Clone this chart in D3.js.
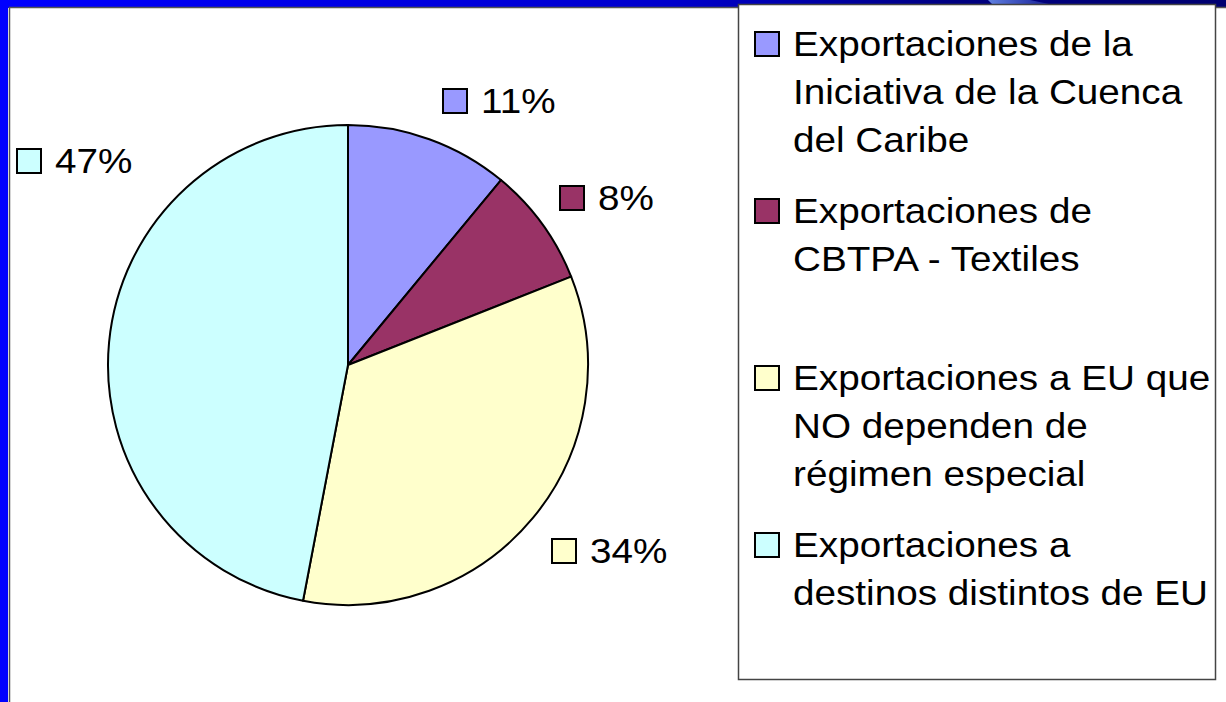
<!DOCTYPE html>
<html lang="es">
<head>
  <meta charset="utf-8">
  <script src="https://d3js.org/d3.v7.min.js"></script>
  <style>
    html, body { margin: 0; padding: 0; background: #fff; }
    svg { display: block; font-family: "Liberation Sans", Arial, sans-serif; }
  </style>
</head>
<body>
<script>
  // data
  const categories = [
    "Exportaciones de la Iniciativa de la Cuenca del Caribe",
    "Exportaciones de CBTPA - Textiles",
    "Exportaciones a EU que NO dependen de régimen especial",
    "Exportaciones a destinos distintos de EU"
  ];
  // legend text split the way the slide wraps it
  const legendLines = [
    ["Exportaciones de la", "Iniciativa de la Cuenca", "del Caribe"],
    ["Exportaciones de", "CBTPA - Textiles"],
    ["Exportaciones a EU que", "NO dependen de", "régimen especial"],
    ["Exportaciones a", "destinos distintos de EU"]
  ];
  const values = [11, 8, 34, 47];
  const colors = ["#9999ff", "#993366", "#ffffcc", "#ccffff"];

  const W = 1226, H = 702;
  const cx = 348, cy = 365, r = 240;
  const fontSize = 36;
  const stretch = 1.075; // slide text is a bit wider than plain Arial

  const svg = d3.select("body").append("svg")
      .attr("width", W)
      .attr("height", H);

  // slide frame (blue bars top and left)
  const defs = svg.append("defs");
  const grad = defs.append("linearGradient").attr("id", "topbar")
      .attr("x1", 0).attr("x2", 1).attr("y1", 0).attr("y2", 0);
  grad.append("stop").attr("offset", "0%").attr("stop-color", "#0000ff");
  grad.append("stop").attr("offset", "55%").attr("stop-color", "#0000cc");
  grad.append("stop").attr("offset", "78%").attr("stop-color", "#000080");
  grad.append("stop").attr("offset", "100%").attr("stop-color", "#000070");

  const streak = defs.append("linearGradient").attr("id", "streak")
      .attr("x1", 0).attr("x2", 1).attr("y1", 0).attr("y2", 0);
  streak.append("stop").attr("offset", "0%").attr("stop-color", "#6080e0");
  streak.append("stop").attr("offset", "100%").attr("stop-color", "#000080");

  svg.append("rect").attr("x", 0).attr("y", 0).attr("width", W).attr("height", 8)
      .attr("fill", "url(#topbar)");
  svg.append("polygon")
      .attr("points", "988,0 1030,0 1068,8 996,8")
      .attr("fill", "url(#streak)");
  svg.append("rect").attr("x", 0).attr("y", 0).attr("width", 8).attr("height", H)
      .attr("fill", "#0000ff");

  // plot area outline
  svg.append("path")
      .attr("d", `M9.5,${H} V7.5 H${W}`)
      .attr("fill", "none")
      .attr("stroke", "#555")
      .attr("stroke-width", 1.5);

  // legend box
  svg.append("rect")
      .attr("x", 738.5).attr("y", 4.5)
      .attr("width", 477).attr("height", 675)
      .attr("fill", "#fff")
      .attr("stroke", "#444")
      .attr("stroke-width", 1.5);

  // pie
  const pie = d3.pie().sort(null).value(d => d.v);
  const arc = d3.arc().innerRadius(0).outerRadius(r);
  const arcs = pie(values.map((v, i) => ({ v, i })));

  const g = svg.append("g").attr("transform", `translate(${cx},${cy})`);
  g.selectAll("path")
    .data(arcs)
    .join("path")
      .attr("d", arc)
      .attr("fill", d => colors[d.data.i])
      .attr("stroke", "#000")
      .attr("stroke-width", 2)
      .attr("stroke-linejoin", "round");

  // data labels (legend key + percent), placed like the slide
  const labelPos = [
    { x: 443, y: 113 },
    { x: 560, y: 210 },
    { x: 552, y: 563 },
    { x: 17,  y: 173 }
  ];
  const keySize = 24;

  const labels = svg.append("g").selectAll("g")
    .data(arcs)
    .join("g")
      .attr("transform", d => `translate(${labelPos[d.data.i].x},${labelPos[d.data.i].y})`);
  labels.append("rect")
      .attr("x", 0).attr("y", -keySize)
      .attr("width", keySize).attr("height", keySize)
      .attr("fill", d => colors[d.data.i])
      .attr("stroke", "#000")
      .attr("stroke-width", 2);
  labels.append("text")
      .attr("transform", `translate(${keySize + 14},0) scale(${stretch},1)`)
      .attr("font-size", fontSize)
      .attr("fill", "#000")
      .text(d => d3.format(".0%")((d.endAngle - d.startAngle) / (2 * Math.PI)));

  // legend
  const legY = d3.scalePoint()
      .domain(d3.range(categories.length))
      .range([56, 557]);
  const lineH = 48;

  const leg = svg.append("g").selectAll("g")
    .data(categories)
    .join("g")
      .attr("transform", (d, i) => `translate(755,${legY(i)})`);
  leg.append("rect")
      .attr("x", 0).attr("y", -keySize)
      .attr("width", keySize).attr("height", keySize)
      .attr("fill", (d, i) => colors[i])
      .attr("stroke", "#000")
      .attr("stroke-width", 2);
  leg.append("text")
      .attr("transform", `translate(38,0) scale(${stretch},1)`)
      .attr("font-size", fontSize)
      .attr("fill", "#000")
      .selectAll("tspan")
      .data((d, i) => legendLines[i])
      .join("tspan")
        .attr("x", 0)
        .attr("y", (d, j) => j * lineH)
        .text(d => d);
</script>
</body>
</html>
